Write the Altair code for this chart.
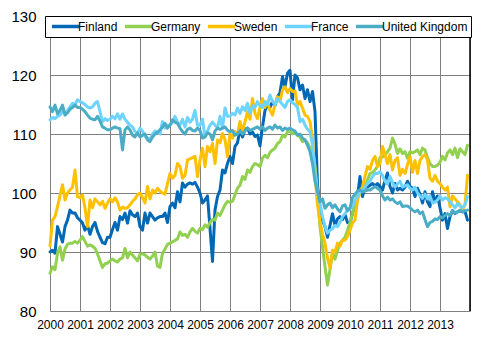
import altair as alt
import pandas as pd

series = ["Finland", "Germany", "Sweden", "France", "United Kingdom"]
colors = ["#0068B4", "#92D050", "#FFC000", "#6DD3FF", "#4BACC6"]
year_ticks = list(range(2000, 2015))
value_ticks = [80, 90, 100, 110, 120, 130]

# monthly values, Jan 2000 - Dec 2013
finland = [
    90.0, 90.3, 89.8, 94.3, 93.0, 91.7, 94.3, 95.4, 97.1, 96.6, 96.6, 95.8,
    95.4, 94.9, 93.7, 94.5, 93.0, 94.3, 95.0, 93.5, 92.5, 91.6, 91.4, 92.5,
    92.5, 93.8, 95.0, 93.7, 96.0, 95.5, 96.6, 94.9, 97.0, 96.3, 96.0, 96.6,
    94.3, 93.7, 96.6, 94.9, 96.6, 96.0, 95.4, 95.8, 96.0, 96.0, 96.6, 95.0,
    97.7, 98.3, 97.5, 100.2, 98.5, 101.7, 101.0, 101.5, 101.7, 101.5, 101.8, 101.0,
    100.0, 98.3, 98.8, 99.5, 94.0, 88.4, 97.1, 99.4, 100.5, 103.9, 103.4, 105.0,
    106.2, 105.0, 107.9, 108.5, 110.8, 109.5, 110.8, 111.0, 110.0, 110.3, 109.6, 109.8,
    108.0, 111.2, 114.0, 114.9, 114.5, 115.5, 114.8, 116.3, 117.0, 119.7, 118.0, 120.3,
    120.8, 115.8, 120.0, 119.5, 117.5, 118.3, 116.0, 117.5, 115.5, 117.2, 113.8, 101.4,
    97.1, 95.4, 94.3, 92.5, 94.5, 96.5, 94.5, 95.6, 96.0, 95.5, 96.3, 95.0,
    94.9, 96.6, 97.7, 99.4, 102.8, 99.4, 101.1, 101.0, 101.3, 101.6, 101.2, 101.6,
    101.1, 100.5, 102.2, 103.4, 101.1, 100.0, 101.6, 100.5, 100.8, 100.5, 101.0, 102.0,
    101.1, 100.8, 99.4, 100.8, 99.8, 98.3, 100.2, 98.5, 97.7, 100.2, 98.5, 99.5,
    97.5, 95.4, 96.5, 94.0, 96.0, 97.0, 96.5, 96.8, 97.0, 96.8, 96.9, 95.4,
]
germany = [
    86.4, 87.5, 87.0, 89.8, 90.9, 88.6, 90.5, 91.3, 91.5, 91.5, 91.8, 91.5,
    92.0, 92.6, 91.8, 91.0, 91.2, 91.0, 90.6, 89.7, 88.5, 87.4, 88.0, 88.1,
    88.5, 88.8, 88.5, 88.3, 88.8, 89.0, 90.6, 89.0, 90.0, 89.5, 89.0, 88.5,
    89.6, 89.7, 89.5, 89.1, 88.8, 89.3, 90.0, 87.6, 87.4, 89.8, 90.5, 91.3,
    91.5, 91.7, 92.0, 92.2, 93.4, 92.8, 93.0, 92.5, 93.4, 94.0, 93.5, 93.2,
    94.0, 93.8, 94.6, 94.2, 95.0, 95.5, 95.4, 96.6, 96.2, 97.1, 98.0, 98.6,
    98.4, 98.6, 99.7, 100.8, 101.3, 102.8, 102.3, 103.9, 103.5, 104.5, 105.0, 104.8,
    104.5, 105.9, 106.4, 106.0, 106.9, 107.3, 107.6, 108.4, 108.7, 109.8, 109.5, 110.4,
    110.4, 110.0, 110.2, 109.8, 109.5, 108.7, 109.0, 108.5, 107.6, 106.0, 104.7, 99.7,
    94.3, 90.9, 87.5, 84.4, 87.0, 89.8, 88.8, 90.3, 91.5, 92.0, 92.5, 93.7,
    95.0, 96.6, 98.1, 100.0, 100.5, 100.8, 101.1, 102.2, 103.3, 103.5, 103.9, 104.5,
    106.0, 106.1, 106.5, 107.0, 107.6, 109.3, 108.3, 106.7, 107.5, 106.7, 107.0, 105.9,
    107.0, 106.8, 107.0, 107.3, 106.5, 107.6, 107.3, 106.0, 105.0, 104.5, 104.5, 104.7,
    105.2, 106.2, 105.6, 106.8, 107.3, 106.5, 107.6, 106.0, 107.5, 107.0, 106.5, 108.1,
]
sweden = [
    91.0, 95.4, 96.0, 97.7, 99.5, 101.4, 98.8, 100.0, 100.5, 101.0, 103.9, 99.4,
    99.2, 99.7, 97.5, 94.3, 98.8, 97.5, 99.0, 98.5, 98.0, 98.6, 97.4, 98.3,
    99.0, 98.5, 99.2, 98.5, 97.1, 97.6, 97.4, 97.5, 98.0, 98.6, 99.0, 99.7,
    100.0, 99.2, 98.3, 101.1, 99.0, 100.5, 100.0, 100.8, 100.3, 100.0, 99.8, 101.6,
    103.3, 102.5, 103.0, 105.0, 104.5, 102.5, 103.0, 105.6, 105.8, 106.0, 106.2, 102.8,
    105.6, 107.6, 104.5, 107.9, 107.0, 108.4, 105.0, 109.0, 108.5, 110.1, 109.0, 106.2,
    110.1, 109.3, 110.4, 110.0, 112.1, 110.5, 112.0, 113.8, 112.5, 116.0, 113.5, 112.6,
    114.5, 116.0, 114.5, 115.5, 114.0, 113.2, 115.0, 116.3, 115.5, 117.5, 118.0, 117.0,
    117.7, 117.2, 117.3, 114.9, 115.5, 114.4, 113.2, 113.0, 112.1, 109.3, 103.0, 98.0,
    95.1, 93.0, 91.5, 89.0, 87.3, 90.3, 90.0, 91.5, 91.0, 92.0, 92.0, 92.6,
    93.7, 94.9, 95.4, 98.8, 100.0, 101.1, 102.8, 104.5, 104.0, 105.5, 106.2, 104.5,
    105.0, 107.9, 106.5, 105.0, 106.5, 103.9, 105.5, 106.0, 103.0, 104.0, 103.3, 104.8,
    106.2, 103.5, 105.5, 103.3, 105.5, 106.2, 106.5, 105.6, 102.5, 102.0, 103.0, 102.0,
    101.6, 101.0, 100.5, 101.0, 97.7, 99.5, 99.0, 98.5, 98.0, 97.2, 98.0, 103.0,
]
france = [
    112.4, 112.8, 112.6, 113.0, 113.2, 113.8, 113.5, 114.0, 114.6, 115.2, 115.0, 115.8,
    115.5, 115.3, 115.0, 114.6, 114.4, 114.6, 115.2, 115.5, 113.8, 112.1, 112.6, 112.3,
    112.5, 113.0, 112.6, 113.4, 112.5, 113.4, 112.5, 112.0, 111.5, 111.2, 110.4, 110.1,
    111.0, 110.5, 109.6, 109.3, 109.1, 110.0, 110.5, 110.2, 110.0, 112.1, 111.0, 111.5,
    111.5, 112.0, 113.0, 112.0, 111.5, 112.5, 111.2, 112.8, 112.0, 112.5, 114.0, 111.5,
    111.5, 112.5, 109.5, 110.5, 111.5, 112.0, 111.5, 111.0, 113.0, 111.0, 114.4, 113.0,
    113.0, 113.5, 113.2, 114.4, 113.5, 114.6, 114.0, 115.2, 113.5, 114.8, 114.5, 115.5,
    114.8, 114.5, 115.5, 115.0, 116.6, 115.5, 115.0, 116.0, 115.5, 115.0, 114.5, 115.5,
    115.8, 115.3, 115.0, 114.5, 112.1, 112.5, 111.5, 110.8, 110.4, 108.1, 103.6, 100.0,
    98.3, 96.0, 94.3, 93.2, 93.7, 93.9, 94.5, 94.3, 95.0, 96.0, 96.5, 97.1,
    97.3, 97.7, 98.8, 99.4, 100.2, 100.5, 101.0, 101.6, 102.0, 102.8, 103.3, 103.3,
    103.6, 103.0, 102.0, 101.5, 102.8, 101.8, 101.0, 101.5, 102.0, 101.0, 101.2, 101.4,
    100.8, 100.5, 101.0, 100.0, 99.5, 99.1, 99.8, 99.0, 99.5, 98.3, 98.5, 98.8,
    99.5, 98.8, 99.2, 99.0, 98.5, 98.0, 97.5, 98.2, 97.8, 97.5, 98.0, 99.4,
]
uk = [
    114.6, 113.8, 114.9, 113.4, 114.0, 114.9, 113.2, 113.6, 114.2, 114.5, 114.9, 114.5,
    114.5, 114.2, 113.8, 113.2, 112.7, 112.5, 112.4, 113.0, 112.2, 111.2, 111.0, 110.7,
    110.7, 111.0, 111.2, 111.0, 110.9, 107.3, 110.7, 111.2, 110.7, 109.8, 109.5, 110.2,
    109.5, 109.8, 110.0, 109.0, 108.7, 109.5, 110.0, 110.3, 110.7, 111.2, 111.8, 111.0,
    111.5, 112.4, 112.0, 111.8, 111.0, 110.4, 110.0, 110.8, 111.0, 110.6, 110.5, 111.0,
    110.6, 109.3, 109.5, 110.2, 110.0, 109.0, 110.5, 111.0, 110.8, 111.0, 111.2, 110.6,
    110.4, 110.6, 109.8, 110.0, 110.5, 110.0, 110.5, 111.0, 110.6, 110.8, 111.0, 111.2,
    110.8, 111.2, 110.6, 111.0, 111.2, 110.8, 111.5, 111.0, 111.2, 110.6, 111.0, 110.8,
    111.0, 110.7, 110.5, 109.8, 110.0, 109.3, 109.0, 108.1, 107.0, 105.0, 102.0, 100.2,
    98.5, 99.0, 97.4, 98.0, 98.3, 97.5, 98.0, 97.3, 96.8, 97.8, 98.0, 97.0,
    97.5, 99.2, 99.8, 100.3, 100.5, 100.2, 100.3, 100.5, 100.5, 100.8, 101.1, 100.8,
    100.5, 99.5, 98.8, 99.3, 98.8, 99.0, 98.5, 98.2, 98.5, 97.7, 97.8, 97.8,
    97.5, 97.1, 96.8, 97.1, 96.5, 96.8, 95.5, 94.3, 95.0, 95.2, 95.6, 95.5,
    96.0, 95.8, 96.2, 96.5, 96.2, 97.0, 96.6, 96.8, 97.1, 96.8, 97.0, 97.1,
]

rows = []
for name, vals in zip(series, [finland, germany, sweden, france, uk]):
    for i, v in enumerate(vals):
        rows.append({"t": 2000 + i / 12.0, "v": v, "s": name})
df = pd.DataFrame(rows)

FONT = "Liberation Sans"

x_enc = alt.X(
    "t:Q",
    scale=alt.Scale(domain=[2000, 2014], nice=False, zero=False),
    axis=alt.Axis(
        values=year_ticks, format="d", title=None,
        labelExpr="datum.value >= 2014 ? '' : datum.label",
        grid=True, gridColor="#808080", gridWidth=1,
        ticks=False, domain=False, labelFontSize=12, labelFont=FONT,
        labelColor="black", labelPadding=8, labelFlush=False,
        labelOverlap=False, labelBound=False, tickCount=15,
    ),
)
y_enc = alt.Y(
    "v:Q",
    scale=alt.Scale(domain=[80, 130], nice=False, zero=False),
    axis=alt.Axis(
        values=value_ticks, title=None, grid=True, gridColor="#808080",
        gridWidth=1, ticks=False, domain=False, labelFontSize=15,
        labelFont=FONT, labelColor="black", labelPadding=14,
        labelFlush=False, labelOverlap=False,
    ),
)
color_enc = alt.Color(
    "s:N",
    scale=alt.Scale(domain=series, range=colors),
    legend=alt.Legend(
        title=None, orient="none", legendX=-5, legendY=0,
        direction="horizontal", symbolType="M-2.7,0H2.7", symbolSize=100,
        symbolStrokeWidth=3.5, symbolOffset=10, labelOffset=5.5,
        labelFontSize=12, labelFont=FONT, labelColor="black",
        strokeColor="black", fillColor="white", padding=3.5,
        columnPadding=0, labelLimit=300,
    ),
)

layers = []
for name in series:
    layers.append(
        alt.Chart(df)
        .transform_filter(alt.datum.s == name)
        .mark_line(strokeWidth=3, strokeJoin="round", strokeCap="round")
        .encode(x=x_enc, y=y_enc, color=color_enc)
    )

edge = (
    alt.Chart(pd.DataFrame({"t": [2014]}))
    .mark_rule(color="black", strokeWidth=1.5)
    .encode(x=x_enc)
)

chart = (
    alt.layer(*layers, edge)
    .properties(
        width=420, height=295,
        autosize=alt.AutoSizeParams(type="none"),
        padding={"left": 50, "top": 16, "right": 28, "bottom": 32},
        background="white",
    )
    .configure_view(stroke=None)
)

chart.save("out.html", embed_options={"renderer": "svg", "actions": False})
